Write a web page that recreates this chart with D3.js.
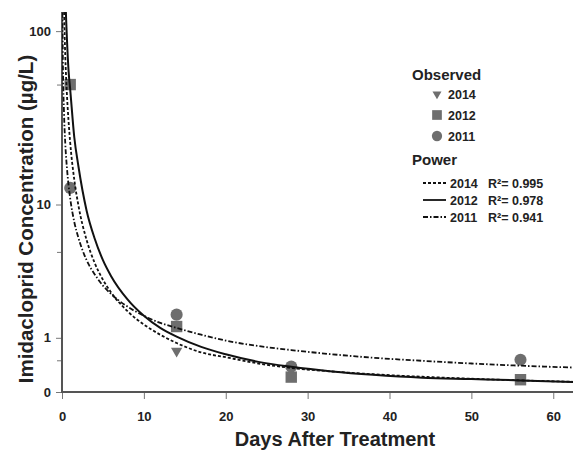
<!DOCTYPE html>
<html>
<head>
<meta charset="utf-8">
<script src="https://cdn.jsdelivr.net/npm/d3@7"></script>
<style>
    body { margin: 0; background: #fff; }
    text { font-family: "Liberation Sans", Arial, sans-serif; font-weight: bold; fill: #222; }
</style>
</head>
<body>
<div id="chart"></div>
<script>
// observed concentrations, [day, ug/L]
const obs2014 = [[14, 0.69], [28, 0.33]];
const obs2012 = [[1, 50], [14, 1.31], [28, 0.21], [56, 0.17]];
const obs2011 = [[1, 12.6], [14, 1.69], [28, 0.385], [56, 0.51]];

// power fit curves
const fitDays2011 = [0.05, 0.1, 0.25, 0.4, 0.6, 0.8, 1, 1.5, 2, 3, 4, 5, 6, 8, 10, 12, 14, 17, 20, 24, 28, 33, 38, 44, 50, 56, 64];
const fit2011 = [127, 72, 34, 23, 16.6, 13.1, 10.9, 7.8, 6.2, 4.4, 3.5, 2.9, 2.5, 1.98, 1.65, 1.42, 1.27, 1.08, 0.93, 0.8, 0.71, 0.62, 0.55, 0.49, 0.44, 0.4, 0.36];
const fitDays = [0.25, 0.4, 0.5, 0.6, 0.8, 1, 1.5, 2, 3, 4, 5, 6, 8, 10, 12, 14, 17, 20, 24, 28, 33, 38, 44, 50, 56, 64];
const fit2012 = [316, 162, 118, 91, 60, 47, 25, 17, 9.2, 6.1, 4.4, 3.4, 2.27, 1.65, 1.27, 1.03, 0.78, 0.62, 0.47, 0.38, 0.3, 0.245, 0.2, 0.18, 0.16, 0.13];
const fit2014 = [128, 72, 55, 44, 31, 23.3, 14.1, 9.9, 6.0, 4.2, 3.2, 2.57, 1.81, 1.37, 1.08, 0.87, 0.66, 0.56, 0.44, 0.36, 0.3, 0.255, 0.215, 0.185, 0.16, 0.135];

const yMajor = [0, 1, 10, 100];
const yMinor = [0.5, 5, 50];
const xTicks = [0, 10, 20, 30, 40, 50, 60];

const legendObserved = [
    {label: "2014", shape: "tri"},
    {label: "2012", shape: "sq"},
    {label: "2011", shape: "circ"}
];
const legendPower = [
    {label: "2014", r2: "0.995", dash: "3,2"},
    {label: "2012", r2: "0.978", dash: null},
    {label: "2011", r2: "0.941", dash: "5,2,1.5,2"}
];

let totalWidth = 573,
    totalHeight = 453;

let x = d3.scaleLinear().domain([0, 64]).range([62, 586]);
let y = d3.scaleSymlog().constant(1).domain([0, 128]).range([392, 12]);

let svg = d3.select("#chart").append("svg")
    .attr("width", totalWidth)
    .attr("height", totalHeight);

svg.append("defs").append("clipPath").attr("id", "plot")
    .append("rect").attr("x", 62).attr("y", 12).attr("width", 520).attr("height", 380);

// axes
let yAxisG = svg.append("g").attr("transform", "translate(62,0)")
    .call(d3.axisLeft(y).tickValues(yMajor).tickFormat(d3.format("d")).tickSize(6).tickPadding(5));
svg.append("g").attr("transform", "translate(62,0)")
    .call(d3.axisLeft(y).tickValues(yMinor).tickFormat("").tickSize(5));

let xAxisG = svg.append("g").attr("transform", "translate(0,392)")
    .call(d3.axisBottom(x).tickValues(xTicks).tickSize(7).tickPadding(13));

svg.selectAll(".domain").remove();
svg.selectAll(".tick line").attr("stroke", "#777");
svg.selectAll(".tick text").style("font-size", "13px").attr("fill", "#333");

svg.append("line").attr("x1", 62).attr("x2", 62).attr("y1", 12).attr("y2", 393)
    .attr("stroke", "#555").attr("stroke-width", 2);
svg.append("line").attr("x1", 61).attr("x2", 573).attr("y1", 392).attr("y2", 392)
    .attr("stroke", "#555").attr("stroke-width", 2);

// titles
svg.append("text")
    .attr("x", 335).attr("y", 446)
    .attr("text-anchor", "middle")
    .style("font-size", "20px")
    .text("Days After Treatment");

svg.append("text")
    .attr("transform", "translate(33,219) rotate(-90)")
    .attr("text-anchor", "middle")
    .style("font-size", "20.5px")
    .text("Imidacloprid Concentration (µg/L)");

// observed points
let plot = svg.append("g").attr("clip-path", "url(#plot)");
let symColor = "#6e6e6e";

function symbolPath(shape) {
    if (shape === "sq") return d3.symbol().type(d3.symbolSquare).size(130)();
    if (shape === "circ") return d3.symbol().type(d3.symbolCircle).size(115)();
    return d3.symbol().type(d3.symbolTriangle).size(55)();
}

function drawObs(data, shape) {
    plot.selectAll(null).data(data).enter().append("path")
        .attr("d", symbolPath(shape))
        .attr("transform", d => "translate(" + x(d[0]) + "," + y(d[1]) + ")" + (shape === "tri" ? " rotate(180)" : ""))
        .attr("fill", symColor);
}
drawObs(obs2012, "sq");
drawObs(obs2011, "circ");
drawObs(obs2014, "tri");

// fitted curves
let line = d3.line().x(d => x(d[0])).y(d => y(d[1])).curve(d3.curveMonotoneX);

function drawFit(days, vals, dash, w) {
    plot.append("path")
        .datum(days.map((d, i) => [d, vals[i]]))
        .attr("d", line)
        .attr("fill", "none")
        .attr("stroke", "#111")
        .attr("stroke-width", w)
        .attr("stroke-dasharray", dash);
}
drawFit(fitDays, fit2014, "3,2", 1.8);
drawFit(fitDays2011, fit2011, "5,2,1.5,2", 1.8);
drawFit(fitDays, fit2012, null, 2);

// legend
let legend = svg.append("g");
legend.append("text").attr("x", 412).attr("y", 80).style("font-size", "15px").text("Observed");
legendObserved.forEach(function(d, i) {
    let cy = 94 + i * 21;
    legend.append("path")
        .attr("d", symbolPath(d.shape))
        .attr("transform", "translate(437," + cy + ")" + (d.shape === "tri" ? " rotate(180) scale(0.8)" : " scale(0.85)"))
        .attr("fill", symColor);
    legend.append("text").attr("x", 448).attr("y", cy + 4.5).style("font-size", "12.5px").text(d.label);
});

legend.append("text").attr("x", 412).attr("y", 165).style("font-size", "15px").text("Power");
legendPower.forEach(function(d, i) {
    let cy = 183 + i * 17;
    legend.append("line")
        .attr("x1", 423).attr("x2", 446).attr("y1", cy).attr("y2", cy)
        .attr("stroke", "#111").attr("stroke-width", 1.8)
        .attr("stroke-dasharray", d.dash);
    legend.append("text").attr("x", 450).attr("y", cy + 4.5).style("font-size", "12.5px").text(d.label);
    legend.append("text").attr("x", 488).attr("y", cy + 4.5).style("font-size", "12.5px").text("R²= " + d.r2);
});
</script>
</body>
</html>
